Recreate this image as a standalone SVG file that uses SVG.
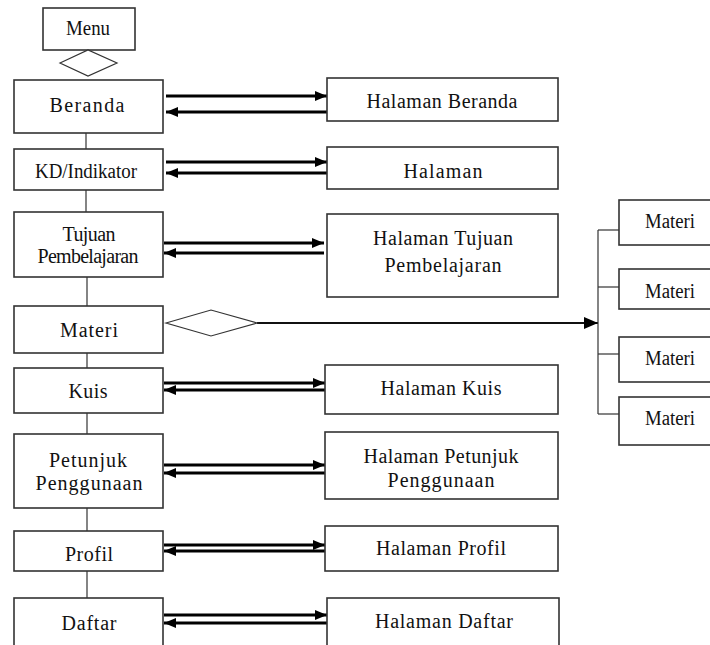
<svg xmlns="http://www.w3.org/2000/svg" width="710" height="645" viewBox="0 0 710 645" font-family="Liberation Serif, serif">
<style>
.box{fill:#fff;stroke:#333;stroke-width:1.6}
.dia{fill:#fff;stroke:#333;stroke-width:1.2}
.ln{stroke:#333;stroke-width:1.2;fill:none}
.ar{stroke:#000;stroke-width:3;fill:none}
.t{font-size:20px;fill:#111;text-anchor:middle}
</style>
<defs>
<marker id="ah" markerUnits="userSpaceOnUse" markerWidth="12" markerHeight="12" viewBox="0 0 12 12" refX="12" refY="6" orient="auto">
<path d="M0,1 L12,6 L0,11 Z" fill="#000"/>
</marker>
<marker id="ah2" markerUnits="userSpaceOnUse" markerWidth="14" markerHeight="14" viewBox="0 0 14 14" refX="14" refY="7" orient="auto">
<path d="M0,1 L14,7 L0,13 Z" fill="#000"/>
</marker>
</defs>

<g id="connectors">
<line class="ln" x1="86" y1="123" x2="86" y2="149"/>
<line class="ln" x1="86" y1="185" x2="86" y2="212"/>
<line class="ln" x1="87" y1="277" x2="87" y2="306"/>
<line class="ln" x1="87" y1="340" x2="87" y2="368"/>
<line class="ln" x1="87" y1="403" x2="87" y2="434"/>
<line class="ln" x1="87" y1="500" x2="87" y2="531"/>
<line class="ln" x1="87" y1="571" x2="87" y2="598"/>

<line class="ar" x1="166" y1="96" x2="327" y2="96" marker-end="url(#ah)"/>
<line class="ar" x1="327" y1="112" x2="166" y2="112" marker-end="url(#ah)"/>
<line class="ar" x1="166" y1="162" x2="327" y2="162" marker-end="url(#ah)"/>
<line class="ar" x1="327" y1="173" x2="166" y2="173" marker-end="url(#ah)"/>
<line class="ar" x1="164" y1="243" x2="324" y2="243" marker-end="url(#ah)"/>
<line class="ar" x1="324" y1="253" x2="164" y2="253" marker-end="url(#ah)"/>
<line class="ar" x1="164" y1="383" x2="325" y2="383" marker-end="url(#ah)"/>
<line class="ar" x1="325" y1="390" x2="164" y2="390" marker-end="url(#ah)"/>
<line class="ar" x1="164" y1="465" x2="325" y2="465" marker-end="url(#ah)"/>
<line class="ar" x1="325" y1="473" x2="164" y2="473" marker-end="url(#ah)"/>
<line class="ar" x1="164" y1="545" x2="325" y2="545" marker-end="url(#ah)"/>
<line class="ar" x1="325" y1="551" x2="164" y2="551" marker-end="url(#ah)"/>
<line class="ar" x1="164" y1="615" x2="327" y2="615" marker-end="url(#ah)"/>
<line class="ar" x1="327" y1="623" x2="164" y2="623" marker-end="url(#ah)"/>

<line x1="257" y1="323" x2="598" y2="323" stroke="#111" stroke-width="2" marker-end="url(#ah2)"/>
<line class="ln" x1="598" y1="230" x2="598" y2="414"/>
<line class="ln" x1="598" y1="230" x2="619" y2="230"/>
<line class="ln" x1="598" y1="287" x2="619" y2="287"/>
<line class="ln" x1="598" y1="354" x2="619" y2="354"/>
<line class="ln" x1="598" y1="414" x2="619" y2="414"/>
</g>

<g id="menu">
<rect class="box" x="43" y="8" width="92" height="42"/>
<text class="t" x="88" y="35" textLength="44" lengthAdjust="spacingAndGlyphs">Menu</text>
<polygon class="dia" points="60,63 88,50 117,63 88,76"/>
</g>

<g id="beranda">
<rect class="box" x="14" y="80" width="149" height="53"/>
<text class="t" x="87" y="112" textLength="75" lengthAdjust="spacing">Beranda</text>
</g>
<g id="halaman-beranda">
<rect class="box" x="327" y="78" width="231" height="43"/>
<text class="t" x="442" y="108" textLength="151" lengthAdjust="spacing">Halaman Beranda</text>
</g>

<g id="kd-indikator">
<rect class="box" x="14" y="149" width="149" height="41"/>
<text class="t" x="86" y="178" textLength="102" lengthAdjust="spacingAndGlyphs">KD/Indikator</text>
</g>
<g id="halaman-kd">
<rect class="box" x="327" y="147" width="231" height="42"/>
<text class="t" x="443" y="178" textLength="79" lengthAdjust="spacing">Halaman</text>
</g>

<g id="tujuan">
<rect class="box" x="14" y="212" width="149" height="65"/>
<text class="t" x="89" y="241" textLength="53" lengthAdjust="spacing">Tujuan</text>
<text class="t" x="88" y="263" textLength="101" lengthAdjust="spacing">Pembelajaran</text>
</g>
<g id="halaman-tujuan">
<rect class="box" x="327" y="214" width="231" height="83"/>
<text class="t" x="443" y="245" textLength="140" lengthAdjust="spacing">Halaman Tujuan</text>
<text class="t" x="443" y="272" textLength="117" lengthAdjust="spacing">Pembelajaran</text>
</g>

<g id="materi">
<rect class="box" x="14" y="306" width="149" height="47"/>
<text class="t" x="89" y="337" textLength="58" lengthAdjust="spacing">Materi</text>
<polygon class="dia" points="166,323 211,310 257,323 211,336"/>
</g>

<g id="materi-1">
<rect class="box" x="619" y="200" width="95" height="45"/>
<text class="t" x="670" y="228" textLength="50" lengthAdjust="spacingAndGlyphs">Materi</text>
</g>
<g id="materi-2">
<rect class="box" x="619" y="269" width="95" height="40"/>
<text class="t" x="670" y="298" textLength="50" lengthAdjust="spacingAndGlyphs">Materi</text>
</g>
<g id="materi-3">
<rect class="box" x="619" y="337" width="95" height="45"/>
<text class="t" x="670" y="365" textLength="50" lengthAdjust="spacingAndGlyphs">Materi</text>
</g>
<g id="materi-4">
<rect class="box" x="619" y="397" width="95" height="48"/>
<text class="t" x="670" y="425" textLength="50" lengthAdjust="spacingAndGlyphs">Materi</text>
</g>

<g id="kuis">
<rect class="box" x="14" y="368" width="149" height="45"/>
<text class="t" x="88" y="398" textLength="39" lengthAdjust="spacing">Kuis</text>
</g>
<g id="halaman-kuis">
<rect class="box" x="325" y="365" width="233" height="49"/>
<text class="t" x="441" y="395" textLength="121" lengthAdjust="spacing">Halaman Kuis</text>
</g>

<g id="petunjuk">
<rect class="box" x="14" y="434" width="149" height="74"/>
<text class="t" x="88" y="467" textLength="78" lengthAdjust="spacing">Petunjuk</text>
<text class="t" x="89" y="490" textLength="107" lengthAdjust="spacing">Penggunaan</text>
</g>
<g id="halaman-petunjuk">
<rect class="box" x="325" y="432" width="233" height="67"/>
<text class="t" x="441" y="463" textLength="155" lengthAdjust="spacing">Halaman Petunjuk</text>
<text class="t" x="441" y="487" textLength="107" lengthAdjust="spacing">Penggunaan</text>
</g>

<g id="profil">
<rect class="box" x="14" y="531" width="149" height="40"/>
<text class="t" x="89" y="561" textLength="48" lengthAdjust="spacing">Profil</text>
</g>
<g id="halaman-profil">
<rect class="box" x="325" y="526" width="233" height="45"/>
<text class="t" x="441" y="555" textLength="130" lengthAdjust="spacing">Halaman Profil</text>
</g>

<g id="daftar">
<rect class="box" x="14" y="598" width="149" height="60"/>
<text class="t" x="89" y="630" textLength="55" lengthAdjust="spacing">Daftar</text>
</g>
<g id="halaman-daftar">
<rect class="box" x="327" y="598" width="232" height="60"/>
<text class="t" x="444" y="628" textLength="138" lengthAdjust="spacing">Halaman Daftar</text>
</g>
</svg>
